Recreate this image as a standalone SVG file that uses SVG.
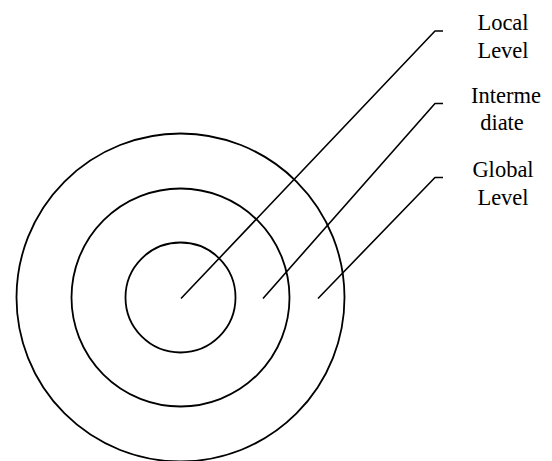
<svg xmlns="http://www.w3.org/2000/svg" width="552" height="461" viewBox="0 0 552 461">
<style>
.ring{fill:none;stroke:#000;stroke-width:1.8}
.ln{fill:none;stroke:#000;stroke-width:1.6;stroke-linejoin:round}
.lbl{font-family:"Liberation Serif","Times New Roman",serif;font-size:22.5px;fill:#000;text-anchor:middle}
</style>
<rect width="552" height="461" fill="#fff"/>
<g id="global"><circle class="ring" cx="180.5" cy="297.5" r="164"/></g>
<g id="intermediate"><circle class="ring" cx="180.5" cy="297.5" r="109"/></g>
<g id="local"><circle class="ring" cx="180.5" cy="297.5" r="55"/></g>
<g id="connectors">
<polyline class="ln" points="181,298.5 435,31 443,31"/>
<polyline class="ln" points="263,298.5 435,103.5 443,103.5"/>
<polyline class="ln" points="318,298.5 435,177.5 443,177.5"/>
</g>
<g id="label-local"><text class="lbl" x="503" y="30">Local</text><text class="lbl" x="503" y="58">Level</text></g>
<g id="label-intermediate"><text class="lbl" x="506" y="103">Interme</text><text class="lbl" x="502" y="130">diate</text></g>
<g id="label-global"><text class="lbl" x="503" y="177">Global</text><text class="lbl" x="503" y="205">Level</text></g>
</svg>
